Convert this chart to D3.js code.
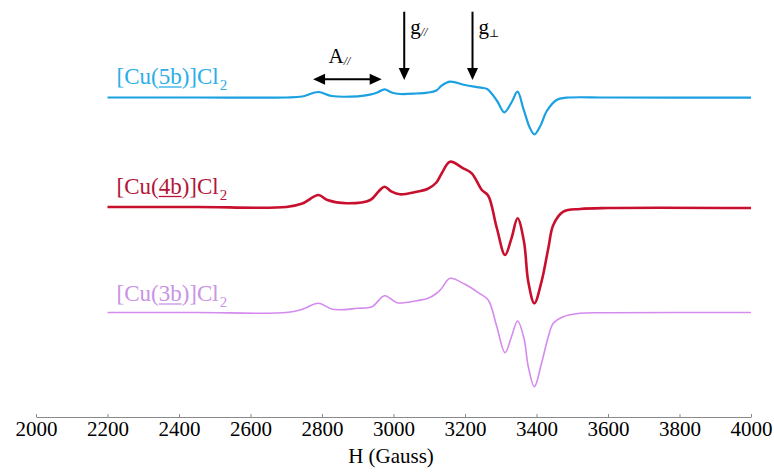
<!DOCTYPE html>
<html>
<head>
<meta charset="utf-8">
<script src="https://cdn.jsdelivr.net/npm/d3@7"></script>
<style>
  body { margin: 0; background: #fff; }
  svg { display: block; }
  text { font-family: "Liberation Serif", "Times New Roman", serif; }
</style>
</head>
<body>
<div id="chart"></div>
<script>
// Spektrumdata: felt (Gauss) og signal (vilkårlige enheter, relativt til grunnlinjen)
const field5b  = [2200, 2450, 2700, 2745, 2790, 2827, 2900, 2934, 2955, 2975, 2995, 3018, 3065, 3095, 3120, 3135, 3158, 3200, 3245, 3262, 3289, 3310, 3330, 3347, 3363, 3382, 3394, 3412, 3428, 3456, 3484, 3600, 4000];
const signal5b = [0, 0, 0, 1, 5.5, 1.5, 1.2, 2.8, 5, 8.2, 5, 3.5, 4, 4.8, 7, 12, 15.8, 12.5, 9.8, 8.5, -3, -14.8, -5, 5.8, -10.8, -30.8, -36.8, -27.5, -14, -2.5, -0.2, 0, -0.2];

const field4b  = [2200, 2450, 2700, 2745, 2790, 2815, 2869, 2935, 2960, 2975, 2995, 3018, 3065, 3095, 3120, 3135, 3158, 3195, 3219, 3247, 3265, 3289, 3312, 3330, 3347, 3365, 3377, 3394, 3414, 3433, 3447, 3475, 3522, 3600, 4000];
const signal4b = [0.5, 0.5, 0.5, 4, 12.5, 7.5, 4.2, 7.5, 16.8, 20.8, 15.8, 13.2, 15.8, 18.5, 25, 34.2, 45.8, 39.2, 34.2, 17.5, 11.8, -20.5, -47.5, -30.8, -10.8, -34.2, -74.2, -95.8, -74.2, -40.8, -17.5, -4.2, -1.5, -0.5, -0.5];

const field3b  = [2200, 2450, 2700, 2745, 2790, 2830, 2900, 2940, 2975, 3010, 3065, 3095, 3120, 3135, 3158, 3200, 3240, 3265, 3289, 3312, 3330, 3347, 3365, 3377, 3394, 3414, 3433, 3447, 3475, 3522, 3600, 4000];
const signal3b = [0, 0, 0, 3.2, 9.2, 3.2, 4.2, 5.8, 16.8, 9.8, 11.8, 14, 19, 24.2, 34.2, 28.2, 19.2, 12.5, -14.2, -40.2, -24.2, -8.5, -25.8, -54.2, -74.2, -50.8, -24.2, -10.8, -4.2, -0.8, -0.3, 0];

// Forskyvning av hvert spektrum (stablet visning)
const offsets = [319.5, 209.5, 104.5];
const ligands = ["5b", "4b", "3b"];

const tickFields = [2000, 2200, 2400, 2600, 2800, 3000, 3200, 3400, 3600, 3800, 4000];

// Markeringer: A// (mellom to topper), g// og g⊥
const aParRange = [2775, 2967];
const gPar = 3030;
const gPerp = 3221;

const series = [
  { field: field5b, signal: signal5b, offset: offsets[0], ligand: ligands[0] },
  { field: field4b, signal: signal4b, offset: offsets[1], ligand: ligands[1] },
  { field: field3b, signal: signal3b, offset: offsets[2], ligand: ligands[2] }
];
const styles = [
  { line: "#1BA1E2", label: "#2AAEE8", width: 2.2, labelDrop: 13.5 },
  { line: "#C8102E", label: "#B3153A", width: 2.6, labelDrop: 14 },
  { line: "#D58BEE", label: "#C994E4", width: 1.6, labelDrop: 11.5 }
];

const width = 774, height = 473;
const svg = d3.select("#chart").append("svg")
  .attr("width", width)
  .attr("height", height);

const x = d3.scaleLinear().domain([2000, 4000]).range([36, 751]);
const y = d3.scaleLinear().domain([0, 400]).range([417, 17]);

// x-akse
const axis = svg.append("g")
  .attr("transform", `translate(0,${y(0)})`)
  .call(d3.axisBottom(x).tickValues(tickFields).tickFormat(d3.format("d"))
    .tickSize(-3).tickSizeOuter(0).tickPadding(4));
axis.select(".domain").attr("stroke", "#8a8a8a");
axis.selectAll(".tick line").attr("stroke", "#8a8a8a");
axis.selectAll(".tick text")
  .attr("fill", "#000")
  .style("font-family", '"Liberation Serif", "Times New Roman", serif')
  .style("font-size", "21px");

svg.append("text")
  .attr("x", 391)
  .attr("y", 463)
  .attr("text-anchor", "middle")
  .style("font-size", "21px")
  .text("H (Gauss)");

// Spektrene
const line = d3.line()
  .x(d => x(d[0]))
  .y(d => y(d[1]))
  .curve(d3.curveCatmullRom.alpha(0.5));

series.forEach((s, i) => {
  const st = styles[i];
  const pts = s.field.map((f, j) => [f, s.offset + s.signal[j]]);
  svg.append("path")
    .datum(pts)
    .attr("fill", "none")
    .attr("stroke", st.line)
    .attr("stroke-width", st.width)
    .attr("stroke-linejoin", "round")
    .attr("d", line);

  // Etikett [Cu(nb)]Cl2 med understreket ligand
  const lx = x(2200) + 9;
  const ly = y(s.offset) - st.labelDrop;
  const t = svg.append("text")
    .attr("x", lx)
    .attr("y", ly)
    .attr("fill", st.label)
    .style("font-size", "23px");
  t.append("tspan").text("[Cu(" + s.ligand + ")]Cl");
  t.append("tspan").attr("dy", 6).attr("dx", 1).style("font-size", "15px").text("2");

  const node = t.node();
  const x0 = node.getStartPositionOfChar(4).x;
  const x1 = node.getEndPositionOfChar(5).x;
  svg.append("line")
    .attr("x1", x0).attr("x2", x1)
    .attr("y1", ly + 3).attr("y2", ly + 3)
    .attr("stroke", st.label)
    .attr("stroke-width", 1.3);
});

// Piler
function arrowHead(tipX, tipY, dir) {
  // dir: "left", "right", "down"
  const L = 12, W = 5.5;
  let p;
  if (dir === "left") p = [[tipX, tipY], [tipX + L, tipY - W], [tipX + L, tipY + W]];
  else if (dir === "right") p = [[tipX, tipY], [tipX - L, tipY - W], [tipX - L, tipY + W]];
  else p = [[tipX, tipY], [tipX - W, tipY - L], [tipX + W, tipY - L]];
  svg.append("path").attr("d", "M" + p.join("L") + "Z").attr("fill", "#000");
}

const ay = y(337.7);
svg.append("line")
  .attr("x1", x(aParRange[0]) + 8).attr("x2", x(aParRange[1]) - 8)
  .attr("y1", ay).attr("y2", ay)
  .attr("stroke", "#000").attr("stroke-width", 2);
arrowHead(x(aParRange[0]), ay, "left");
arrowHead(x(aParRange[1]), ay, "right");

const aText = svg.append("text")
  .attr("x", (x(aParRange[0]) + x(aParRange[1])) / 2 - 8)
  .attr("y", ay - 16)
  .attr("text-anchor", "middle")
  .attr("fill", "#000")
  .style("font-size", "21px");
aText.append("tspan").text("A");
aText.append("tspan").attr("dy", 2).style("font-size", "12px").style("font-style", "italic").text("//");

[[gPar, "//"], [gPerp, "\u22A5"]].forEach(([g, sub]) => {
  const gx = x(g);
  svg.append("line")
    .attr("x1", gx).attr("x2", gx)
    .attr("y1", y(405.3)).attr("y2", y(337) - 8)
    .attr("stroke", "#000").attr("stroke-width", 2);
  arrowHead(gx, y(337), "down");
  const gt = svg.append("text")
    .attr("x", gx + 6)
    .attr("y", y(383))
    .attr("fill", "#000")
    .style("font-size", "21px");
  gt.append("tspan").text("g");
  if (sub === "//") {
    gt.append("tspan").attr("dy", 2).style("font-size", "12px").style("font-style", "italic").text(sub);
  } else {
    gt.append("tspan").attr("dy", 3)
      .style("font-family", '"DejaVu Serif", serif')
      .style("font-size", "11px").text(sub);
  }
});
</script>
</body>
</html>
